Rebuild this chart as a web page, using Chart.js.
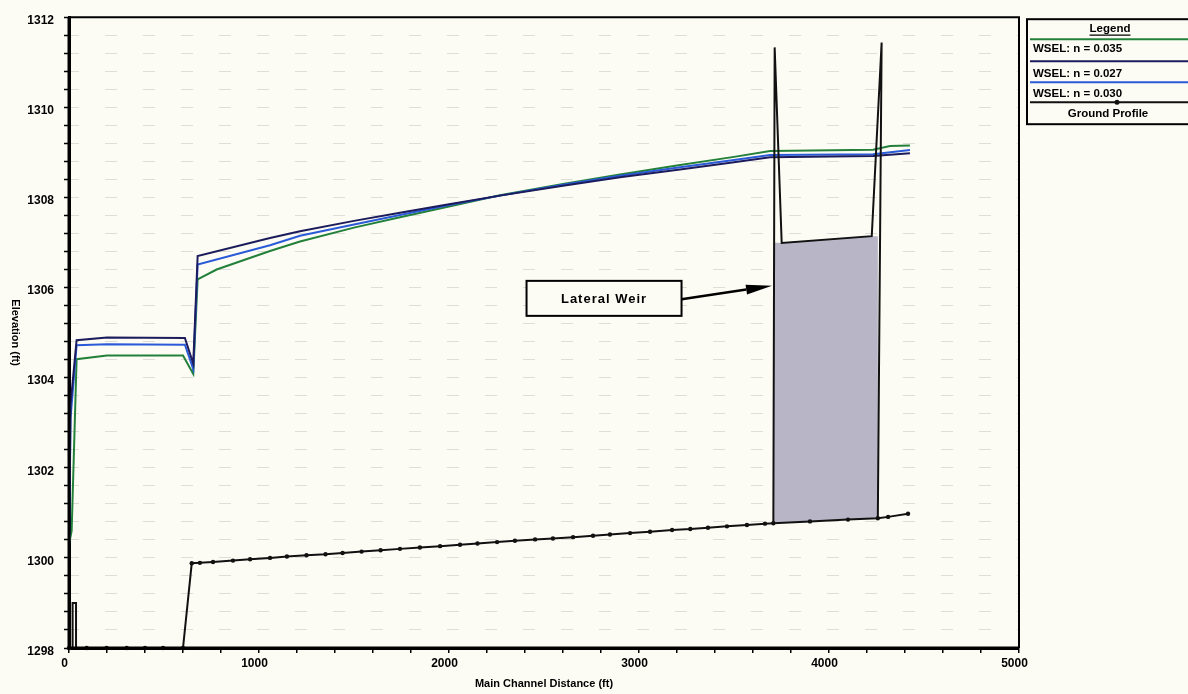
<!DOCTYPE html>
<html><head><meta charset="utf-8">
<script src="https://cdn.jsdelivr.net/npm/chart.js@4.4.0/dist/chart.umd.min.js"></script>
<style>html,body{margin:0;padding:0;background:#fdfcf4;}canvas{display:block;}</style>
</head><body>
<canvas id="c" width="1188" height="694"></canvas>
<script>
// ---- data (distance in ft, elevation in ft) ----
const seriesNames = ['WSEL: n = 0.035', 'WSEL: n = 0.027', 'WSEL: n = 0.030', 'Ground Profile'];

const dist035 = [0, 14, 40, 200, 600, 654, 677, 777, 1058, 1216, 1500, 1742, 2000, 2268, 2600, 2900, 3216, 3500, 3690, 4232, 4321, 4426];
const elev035 = [1300.3, 1300.6, 1304.41, 1304.49, 1304.49, 1304.08, 1306.18, 1306.40, 1306.81, 1307.02, 1307.33, 1307.56, 1307.80, 1308.05, 1308.30, 1308.51, 1308.72, 1308.90, 1309.03, 1309.06, 1309.14, 1309.15];

const dist027 = [0, 8, 40, 200, 610, 654, 677, 1058, 1216, 1500, 1742, 2000, 2268, 2600, 2900, 3216, 3500, 3690, 4232, 4426];
const elev027 = [1300.0, 1303.4, 1304.83, 1304.89, 1304.88, 1304.31, 1306.70, 1307.10, 1307.25, 1307.48, 1307.66, 1307.85, 1308.04, 1308.26, 1308.45, 1308.62, 1308.78, 1308.89, 1308.92, 1308.98];

const dist030 = [0, 8, 40, 200, 610, 654, 677, 1058, 1216, 1500, 1742, 2000, 2268, 2600, 2900, 3216, 3500, 3690, 4232, 4426];
const elev030 = [1300.1, 1303.1, 1304.72, 1304.74, 1304.73, 1304.19, 1306.51, 1306.94, 1307.15, 1307.40, 1307.61, 1307.83, 1308.04, 1308.28, 1308.48, 1308.67, 1308.83, 1308.94, 1308.96, 1309.05];

const groundDist = [0, 19, 19, 37, 37, 93, 198, 304, 400, 495, 600, 646, 689, 758, 863, 953, 1058, 1147, 1250, 1350, 1440, 1540, 1640, 1742, 1847, 1953, 2058, 2150, 2253, 2347, 2453, 2547, 2653, 2758, 2847, 2953, 3058, 3174, 3270, 3363, 3463, 3568, 3663, 3707, 3900, 4100, 4257, 4311, 4416];
const groundElev = [1298.0, 1298.0, 1299.0, 1299.0, 1298.0, 1298.0, 1298.0, 1298.0, 1298.0, 1298.0, 1298.0, 1299.88, 1299.89, 1299.91, 1299.94, 1299.97, 1300.00, 1300.03, 1300.06, 1300.08, 1300.11, 1300.14, 1300.17, 1300.20, 1300.23, 1300.26, 1300.29, 1300.32, 1300.35, 1300.38, 1300.41, 1300.43, 1300.46, 1300.49, 1300.52, 1300.55, 1300.58, 1300.62, 1300.64, 1300.67, 1300.70, 1300.73, 1300.76, 1300.77, 1300.81, 1300.85, 1300.88, 1300.91, 1300.98];

// lateral weir outline and its filled body
const weirDist = [3707, 3714, 3751, 4225, 4277, 4257];
const weirElev = [1300.77, 1311.33, 1306.99, 1307.14, 1311.44, 1300.88];
const weirFillDist = [3707, 3707, 3751, 4225, 4257, 4257];
const weirFillElev = [1300.77, 1307.00, 1306.99, 1307.14, 1307.14, 1300.88];

const noteText = 'Lateral Weir';
const noteAt = [2816, 1305.76];
const arrowTip = [3700, 1306.04];

const xTickLabels = [0, 1000, 2000, 3000, 4000, 5000];
const yTickLabels = [1298, 1300, 1302, 1304, 1306, 1308, 1310, 1312];

// ---- styles ----
const FONT = '"Liberation Sans", Arial, Helvetica, sans-serif';
const BG = '#fdfcf4';
const C035 = '#23803a', C027 = '#1c1c5c', C030 = '#2a5ad8', CGR = '#111111', CFILL = '#b7b5c6';

const pts = (xs, ys) => xs.map((x, i) => ({x, y: ys[i]}));

const bgPlugin = {
  id: 'bg',
  beforeDraw(chart) {
    const ctx = chart.ctx;
    ctx.save(); ctx.fillStyle = BG; ctx.fillRect(0, 0, chart.width, chart.height); ctx.restore();
  }
};

const framePlugin = {
  id: 'frame',
  afterDraw(chart) {
    const {ctx, chartArea: a} = chart;
    ctx.save();
    ctx.strokeStyle = '#000'; ctx.lineWidth = 2;
    ctx.beginPath();
    ctx.moveTo(a.left, a.top); ctx.lineTo(a.right, a.top); ctx.lineTo(a.right, a.bottom);
    ctx.stroke();
    ctx.lineWidth = 3;
    ctx.beginPath(); ctx.moveTo(a.left, a.top); ctx.lineTo(a.left, a.bottom); ctx.lineTo(a.right, a.bottom); ctx.stroke();
    // y-axis title reading downward
    ctx.translate(a.left - 54, (a.top + a.bottom) / 2);
    ctx.rotate(Math.PI / 2);
    ctx.fillStyle = '#000';
    ctx.font = 'bold 11px ' + FONT;
    ctx.textAlign = 'center'; ctx.textBaseline = 'middle';
    ctx.fillText('Elevation (ft)', 0, 0);
    ctx.restore();
  }
};

const notePlugin = {
  id: 'note',
  afterDatasetsDraw(chart) {
    const {ctx, scales: {x, y}} = chart;
    const cx = x.getPixelForValue(noteAt[0]), cy = y.getPixelForValue(noteAt[1]);
    const w = 155, h = 35;
    ctx.save();
    ctx.fillStyle = BG;
    ctx.fillRect(cx - w / 2, cy - h / 2, w, h);
    ctx.lineWidth = 2; ctx.strokeStyle = '#000';
    ctx.strokeRect(cx - w / 2, cy - h / 2, w, h);
    ctx.fillStyle = '#000';
    ctx.font = 'bold 13px ' + FONT;
    ctx.textAlign = 'center'; ctx.textBaseline = 'middle';
    try { ctx.letterSpacing = '1px'; } catch (e) {}
    ctx.fillText(noteText, cx, cy + 1);
    try { ctx.letterSpacing = '0px'; } catch (e) {}
    // arrow
    const ax = cx + w / 2, ay = cy + 1;
    const tx = x.getPixelForValue(arrowTip[0]), ty = y.getPixelForValue(arrowTip[1]);
    const ang = Math.atan2(ty - ay, tx - ax);
    const hl = 26, hw = 5;
    const bx = tx - hl * Math.cos(ang), by = ty - hl * Math.sin(ang);
    ctx.lineWidth = 2.5;
    ctx.beginPath(); ctx.moveTo(ax, ay); ctx.lineTo(bx, by); ctx.stroke();
    ctx.beginPath();
    ctx.moveTo(tx, ty);
    ctx.lineTo(bx + hw * Math.sin(ang), by - hw * Math.cos(ang));
    ctx.lineTo(bx - hw * Math.sin(ang), by + hw * Math.cos(ang));
    ctx.closePath(); ctx.fill();
    ctx.restore();
  }
};

const legendPlugin = {
  id: 'boxLegend',
  afterDraw(chart) {
    const {ctx, chartArea: a} = chart;
    const L = a.right + 8, T = a.top + 2, R = chart.width + 4, B = T + 105;
    const mid = 1110;
    ctx.save();
    ctx.fillStyle = BG; ctx.fillRect(L, T, R - L, B - T);
    ctx.strokeStyle = '#000'; ctx.lineWidth = 2;
    ctx.strokeRect(L, T, R - L, B - T);
    ctx.fillStyle = '#000';
    ctx.font = 'bold 11.5px ' + FONT;
    ctx.textBaseline = 'middle';
    ctx.textAlign = 'center';
    ctx.fillText('Legend', mid, T + 10);
    const lw = ctx.measureText('Legend').width;
    ctx.lineWidth = 1.2;
    ctx.beginPath(); ctx.moveTo(mid - lw / 2, T + 16); ctx.lineTo(mid + lw / 2, T + 16); ctx.stroke();
    const rows = [
      {c: C035, ly: 20, ty: 30, t: seriesNames[0], align: 'left'},
      {c: C027, ly: 42, ty: 55, t: seriesNames[1], align: 'left'},
      {c: C030, ly: 63, ty: 75, t: seriesNames[2], align: 'left'},
      {c: CGR, ly: 83, ty: 95, t: seriesNames[3], align: 'center', dot: true}
    ];
    rows.forEach(r => {
      ctx.strokeStyle = r.c; ctx.lineWidth = 2;
      ctx.beginPath(); ctx.moveTo(L + 3, T + r.ly); ctx.lineTo(R - 3, T + r.ly); ctx.stroke();
      if (r.dot) {
        ctx.fillStyle = r.c; ctx.beginPath(); ctx.arc(1117, T + r.ly, 2.5, 0, Math.PI * 2); ctx.fill();
      }
      ctx.fillStyle = '#000';
      ctx.textAlign = r.align;
      ctx.fillText(r.t, r.align === 'left' ? L + 6 : mid - 2, T + r.ty);
    });
    ctx.restore();
  }
};

new Chart(document.getElementById('c'), {
  type: 'scatter',
  data: {
    datasets: [
      {label: 'weir body', data: pts(weirFillDist, weirFillElev), showLine: true, fill: 'shape',
       backgroundColor: CFILL, borderColor: 'rgba(0,0,0,0)', borderWidth: 0, pointRadius: 0, order: 6},
      {label: seriesNames[3], data: pts(groundDist, groundElev), showLine: true, borderColor: CGR, borderWidth: 2,
       pointRadius: (c) => (c.dataIndex >= 1 && c.dataIndex <= 4) ? 0 : 2.2, pointBackgroundColor: CGR, pointBorderWidth: 0,
       tension: 0, order: 5, clip: false},
      {label: seriesNames[0], data: pts(dist035, elev035), showLine: true, borderColor: C035, borderWidth: 2, pointRadius: 0, tension: 0, order: 4},
      {label: seriesNames[2], data: pts(dist030, elev030), showLine: true, borderColor: C030, borderWidth: 2, pointRadius: 0, tension: 0, order: 3},
      {label: seriesNames[1], data: pts(dist027, elev027), showLine: true, borderColor: C027, borderWidth: 2, pointRadius: 0, tension: 0, order: 2},
      {label: 'weir outline', data: pts(weirDist, weirElev), showLine: true, borderColor: '#111', borderWidth: 2, pointRadius: 0, tension: 0, order: 1}
    ]
  },
  options: {
    responsive: false,
    animation: false,
    devicePixelRatio: 1,
    events: [],
    layout: {padding: {top: 13, right: 169, left: 0, bottom: 0}},
    plugins: {legend: {display: false}, tooltip: {enabled: false}},
    scales: {
      x: {
        type: 'linear', position: 'bottom', min: 0, max: 5000,
        afterFit: (s) => { s.height = 46; },
        border: {color: '#000', width: 3},
        grid: {drawOnChartArea: false, color: '#000', tickLength: 5, lineWidth: 1.5},
        ticks: {
          stepSize: 200, autoSkip: false, maxRotation: 0, minRotation: 0, padding: 3, labelOffset: -4.5,
          color: '#000', font: {family: FONT, size: 12, weight: 'bold'},
          callback: (v) => xTickLabels.some(t => Math.abs(t - v) < 1e-6) ? String(Math.round(v)) : ''
        },
        title: {display: true, text: 'Main Channel Distance (ft)', color: '#000',
                font: {family: FONT, size: 11, weight: 'bold'}, padding: {top: 0, bottom: 3}}
      },
      y: {
        type: 'linear', min: 1298, max: 1312,
        afterFit: (s) => { s.width = 69; },
        border: {color: '#000', width: 3, dash: [12, 26], dashOffset: 4},
        grid: {color: 'rgba(175,175,175,0.4)', lineWidth: 1, tickBorderDash: [1, 0],
               tickColor: '#000', tickLength: 5, tickWidth: 1.5},
        ticks: {
          stepSize: 0.4, autoSkip: false, padding: 10, labelOffset: 3.5,
          color: '#000', font: {family: FONT, size: 12, weight: 'bold'},
          callback: (v) => yTickLabels.some(t => Math.abs(t - v) < 1e-6) ? String(Math.round(v)) : ''
        }
      }
    }
  },
  plugins: [bgPlugin, notePlugin, framePlugin, legendPlugin]
});
</script>
</body></html>
